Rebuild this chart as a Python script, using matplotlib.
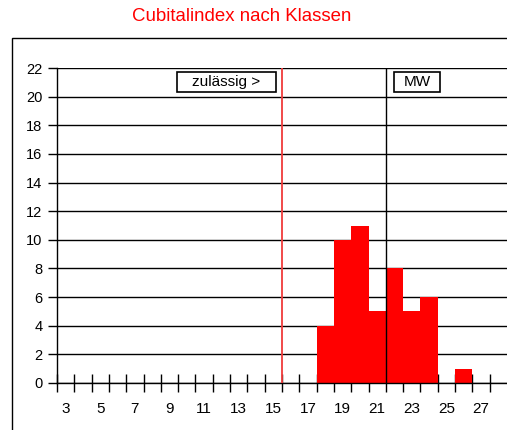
"""Cubitalindex nach Klassen - histogram with limit and mean markers."""

import matplotlib

matplotlib.use("Agg")
import matplotlib.pyplot as plt
from matplotlib.patches import Rectangle

plt.rcParams["font.family"] = ["Liberation Sans", "DejaVu Sans"]

# data
klassen = list(range(3, 29))
anzahl = [0, 0, 0, 0, 0, 0, 0, 0, 0, 0, 0, 0, 0, 0, 0, 4, 10, 11, 5, 8, 5, 6, 0, 1, 0, 0]
grenze = 15.5
mittelwert = 21.5
titel = "Cubitalindex nach Klassen"
label_grenze = "zulässig >"
label_mw = "MW"

fig = plt.figure(figsize=(5.07, 4.30), dpi=100)
ax = fig.add_axes([57 / 507, 1 - 383 / 430, 450 / 507, 315 / 430])

ax.bar(klassen, anzahl, width=1.0, color="#ff0000", linewidth=0, zorder=2)

ax.set_xlim(klassen[0] - 0.5, klassen[-1] + 0.5)
ax.set_ylim(0, 22)
ax.set_yticks(range(0, 23, 2))
ax.grid(axis="y", color="black", linewidth=1.0, zorder=1)
ax.set_axisbelow(True)

labelled = [k for k in klassen if k % 2 == 1 and k <= 27]
ax.set_xticks([k - 0.5 for k in klassen])
ax.set_xticklabels([])
ax.set_xticks(labelled, minor=True)
ax.set_xticklabels([str(k) for k in labelled], minor=True)
ax.tick_params(axis="x", which="major", direction="inout", length=13.5, width=1.0)
ax.tick_params(axis="x", which="minor", length=0, pad=13.5, labelsize=11)
ax.tick_params(axis="y", direction="out", length=6.5, width=1.0, labelsize=10.5, pad=4)

for side in ("top", "right"):
    ax.spines[side].set_visible(False)
ax.spines["left"].set_linewidth(1.0)
ax.spines["bottom"].set_linewidth(1.0)

ax.vlines(grenze, 0, 22, color="#f03c3c", linewidth=1.3, zorder=3)
ax.vlines(mittelwert, 0, 22, color="black", linewidth=1.0, zorder=3)

# label boxes (x0, x1, y0, y1 in data units)
for (x0, x1, y0, y1), txt in [((9.43, 15.15, 20.34, 21.74), label_grenze),
                             ((21.97, 24.65, 20.34, 21.74), label_mw)]:
    ax.add_patch(Rectangle((x0, y0), x1 - x0, y1 - y0, facecolor="white",
                           edgecolor="black", linewidth=1.2, zorder=4))
    ax.text((x0 + x1) / 2, (y0 + y1) / 2, txt, ha="center", va="center",
            fontsize=11, zorder=5)

fig.text(242 / 507, 1 - 21 / 430, titel, color="#ff0000", ha="center", va="baseline",
         fontsize=13.4)

fig.patches.append(
    Rectangle((12 / 507, -0.1), 1.2, 1 - 38 / 430 + 0.1, transform=fig.transFigure,
              fill=False, edgecolor="black", linewidth=1.0)
)

fig.savefig("out.png", dpi=100)
